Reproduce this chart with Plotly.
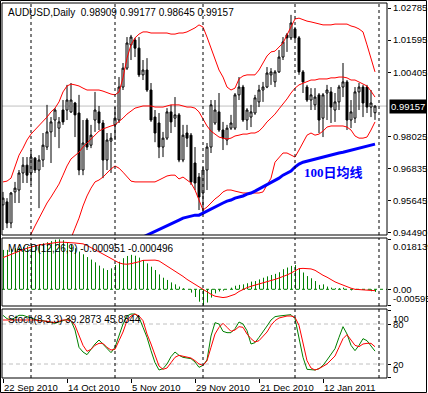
import plotly.graph_objects as go

# ---------------- data ----------------
open_ = [0.9550,0.9561,0.9483,0.9598,0.9605,0.9668,0.9697,0.9668,0.9723,0.9679,
         0.9716,0.9764,0.9820,0.9864,0.9834,0.9901,0.9901,0.9894,0.9927,0.9890,
         0.9679,0.9864,0.9771,0.9864,0.9894,0.9853,0.9716,0.9786,0.9846,0.9864,
         0.9986,1.0056,1.0142,1.0160,1.0130,1.0031,1.0049,0.9975,0.9875,0.9853,
         0.9764,0.9797,0.9894,0.9871,0.9883,0.9716,0.9816,0.9808,0.9705,0.9653,
         0.9594,0.9679,0.9764,0.9853,0.9894,0.9827,0.9790,0.9834,0.9834,0.9957,
         0.9986,0.9864,0.9875,0.9890,0.9931,0.9975,0.9986,1.0031,1.0005,1.0042,
         1.0097,1.0179,1.0168,1.0201,1.0168,1.0042,0.9986,0.9938,0.9920,0.9957,
         0.9871,0.9964,0.9968,0.9901,0.9931,0.9986,1.0005,0.9864,0.9871,0.9968,
         0.9986,0.9986,0.9912,0.98909]
high = [0.9598,0.9575,0.9598,0.9635,0.9679,0.9727,0.9727,0.9753,0.9727,0.9734,
        0.9816,0.9920,0.9875,0.9908,0.9875,0.9938,0.9994,1.0001,0.9931,0.9957,
        0.9864,0.9871,0.9846,0.9968,0.9916,0.9864,0.9816,0.9816,0.9912,1.0023,
        1.0075,1.0171,1.0179,1.0168,1.0171,1.0086,1.0093,1.0001,0.9901,0.9890,
        0.9820,0.9908,0.9920,0.9949,0.9890,0.9846,0.9846,0.9816,0.9764,0.9668,
        0.9690,0.9779,0.9938,0.9938,0.9964,0.9857,0.9846,0.9883,0.9964,1.0023,
        0.9994,0.9908,0.9920,0.9957,0.9994,1.0005,1.0060,1.0056,1.0049,1.0123,
        1.0171,1.0186,1.0253,1.0208,1.0175,1.0049,0.9994,0.9982,0.9982,0.9964,
        0.9964,0.9994,0.9986,0.9964,0.9994,1.0075,1.0012,0.9938,0.9986,1.0001,
        0.9994,0.9994,0.9975,0.99177]
low = [0.9457,0.9464,0.9464,0.9557,0.9557,0.9631,0.9631,0.9624,0.9668,0.9538,
       0.9690,0.9753,0.9705,0.9801,0.9760,0.9846,0.9864,0.9890,0.9801,0.9660,
       0.9660,0.9753,0.9760,0.9820,0.9827,0.9649,0.9679,0.9668,0.9790,0.9853,
       0.9975,1.0049,1.0086,1.0097,1.0023,1.0012,0.9968,0.9857,0.9782,0.9723,
       0.9727,0.9790,0.9816,0.9838,0.9708,0.9708,0.9764,0.9624,0.9605,0.9531,
       0.9520,0.9605,0.9742,0.9846,0.9820,0.9753,0.9771,0.9827,0.9827,0.9938,
       0.9857,0.9827,0.9838,0.9883,0.9912,0.9931,0.9982,0.9994,0.9986,1.0038,
       1.0086,1.0116,1.0160,1.0160,1.0031,0.9964,0.9931,0.9901,0.9901,0.9816,
       0.9801,0.9864,0.9853,0.9857,0.9901,0.9949,0.9827,0.9834,0.9853,0.9901,
       0.9875,0.9890,0.9875,0.98645]
close = [0.9575,0.9483,0.9594,0.9612,0.9668,0.9697,0.9660,0.9727,0.9679,0.9716,
         0.9771,0.9820,0.9857,0.9901,0.9857,0.9857,0.9938,0.9938,0.9883,0.9679,
         0.9779,0.9764,0.9808,0.9901,0.9853,0.9716,0.9790,0.9797,0.9871,0.9986,
         1.0056,1.0149,1.0171,1.0130,1.0031,1.0049,0.9975,0.9864,0.9816,0.9764,
         0.9797,0.9894,0.9857,0.9883,0.9716,0.9808,0.9797,0.9635,0.9631,0.9579,
         0.9679,0.9764,0.9920,0.9901,0.9827,0.9797,0.9834,0.9853,0.9957,0.9986,
         0.9864,0.9901,0.9894,0.9946,0.9975,0.9986,1.0038,1.0042,1.0042,1.0097,
         1.0153,1.0168,1.0223,1.0168,1.0042,1.0005,0.9938,0.9957,0.9949,0.9864,
         0.9957,0.9975,0.9912,0.9931,0.9986,1.0005,0.9864,0.9894,0.9968,0.9986,
         0.9927,0.9912,0.9927,0.99157]

bb_upper = [0.9635,0.9638,0.9649,0.9694,0.9734,0.9760,0.9790,0.9812,0.9827,0.9842,
            0.9857,0.9875,0.9894,0.9908,0.9931,0.9968,0.9990,0.9997,0.9994,0.9990,
            0.9982,0.9975,0.9975,0.9975,0.9975,0.9971,0.9964,0.9960,0.9957,0.9968,
            1.0020,1.0093,1.0142,1.0168,1.0182,1.0190,1.0190,1.0186,1.0186,1.0186,
            1.0186,1.0186,1.0182,1.0182,1.0186,1.0186,1.0190,1.0197,1.0205,1.0216,
            1.0208,1.0171,1.0130,1.0086,1.0049,1.0023,0.9986,0.9975,0.9982,1.0016,
            1.0027,1.0031,1.0031,1.0031,1.0049,1.0075,1.0101,1.0116,1.0119,1.0134,
            1.0149,1.0179,1.0208,1.0238,1.0241,1.0234,1.0230,1.0227,1.0223,1.0219,
            1.0216,1.0216,1.0216,1.0219,1.0219,1.0219,1.0219,1.0212,1.0208,1.0201,
            1.0190,1.0142,1.0093,1.0042]
bb_middle = [0.9316,0.9339,0.9361,0.9383,0.9398,0.9413,0.9427,0.9442,0.9472,0.9501,
             0.9531,0.9557,0.9579,0.9601,0.9627,0.9660,0.9694,0.9720,0.9734,0.9745,
             0.9764,0.9779,0.9794,0.9808,0.9823,0.9831,0.9838,0.9842,0.9846,0.9857,
             0.9871,0.9886,0.9897,0.9908,0.9912,0.9916,0.9916,0.9916,0.9912,0.9912,
             0.9912,0.9916,0.9920,0.9920,0.9920,0.9916,0.9912,0.9912,0.9908,0.9894,
             0.9868,0.9842,0.9823,0.9812,0.9801,0.9797,0.9794,0.9797,0.9805,0.9808,
             0.9812,0.9812,0.9816,0.9816,0.9823,0.9838,0.9857,0.9871,0.9886,0.9905,
             0.9923,0.9942,0.9964,0.9982,0.9994,1.0001,1.0008,1.0012,1.0012,1.0016,
             1.0016,1.0016,1.0020,1.0020,1.0023,1.0023,1.0020,1.0012,1.0012,1.0005,
             0.9997,0.9990,0.9971,0.9949]
bb_lower = [0.9124,0.9131,0.9139,0.9154,0.9176,0.9198,0.9213,0.9227,0.9250,0.9272,
            0.9301,0.9324,0.9339,0.9353,0.9368,0.9390,0.9409,0.9427,0.9464,0.9501,
            0.9546,0.9583,0.9612,0.9635,0.9642,0.9653,0.9668,0.9683,0.9694,0.9686,
            0.9671,0.9653,0.9638,0.9635,0.9635,0.9635,0.9635,0.9635,0.9635,0.9642,
            0.9649,0.9657,0.9660,0.9660,0.9646,0.9653,0.9642,0.9631,0.9605,0.9568,
            0.9531,0.9542,0.9557,0.9572,0.9583,0.9598,0.9605,0.9605,0.9601,0.9598,
            0.9594,0.9594,0.9594,0.9594,0.9594,0.9598,0.9624,0.9649,0.9708,0.9727,
            0.9742,0.9742,0.9734,0.9727,0.9753,0.9779,0.9808,0.9816,0.9808,0.9812,
            0.9823,0.9838,0.9842,0.9842,0.9842,0.9842,0.9838,0.9827,0.9805,0.9797,
            0.9797,0.9801,0.9827,0.9857]
ma100 = [None] * 34 + [
    0.9424,0.9431,0.9438,0.9446,0.9453,0.9461,0.9468,0.9475,0.9483,0.9487,
    0.9494,0.9501,0.9505,0.9509,0.9512,0.9512,0.9520,0.9527,0.9535,0.9542,
    0.9549,0.9557,0.9564,0.9568,0.9575,0.9579,0.9583,0.9590,0.9594,0.9601,
    0.9609,0.9616,0.9624,0.9631,0.9638,0.9649,0.9660,0.9668,0.9675,0.9690,
    0.9701,0.9708,0.9712,0.9716,0.9720,0.9723,0.9727,0.9731,0.9734,0.9738,
    0.9742,0.9745,0.9749,0.9753,0.9757,0.9760,0.9764,0.9768,0.9771,0.9775]

macd_hist = [0.0143,0.0143,0.0146,0.0149,0.0151,0.0154,0.0156,0.0159,0.0161,0.0163,
             0.0167,0.0171,0.0175,0.0180,0.018139,0.0178,0.0171,0.0161,0.0149,0.0137,
             0.0127,0.0117,0.0108,0.0098,0.0086,0.0076,0.0070,0.0076,0.0088,0.0100,
             0.0113,0.0121,0.0125,0.0122,0.0115,0.0106,0.0094,0.0082,0.0070,0.0054,
             0.0042,0.0034,0.0025,0.0018,0.0010,0.0004,0.0000,-0.0012,-0.0028,-0.0045,
             -0.0058,-0.0048,-0.0030,-0.0015,-0.0008,-0.0005,0.0000,0.0006,0.0013,0.0016,
             0.0018,0.0022,0.0028,0.0030,0.0036,0.0042,0.0047,0.0052,0.0056,0.0062,
             0.0073,0.0079,0.0085,0.0088,0.0076,0.0061,0.0048,0.0040,0.0030,0.0016,
             0.0018,0.0010,0.0006,0.0004,0.0004,0.0006,0.0000,-0.0004,-0.0002,-0.0001,
             0.0000,-0.0001,-0.0007,-0.000951]
macd_signal = [0.0115,0.0121,0.0126,0.0134,0.0139,0.0144,0.0149,0.0154,0.0157,0.0161,
               0.0163,0.0167,0.0169,0.0171,0.0171,0.0171,0.0169,0.0169,0.0168,0.0167,
               0.0165,0.0159,0.0152,0.0144,0.0137,0.0128,0.0120,0.0111,0.0103,0.0096,
               0.0092,0.0091,0.0093,0.0096,0.0100,0.0105,0.0106,0.0106,0.0106,0.0103,
               0.0094,0.0085,0.0076,0.0067,0.0058,0.0047,0.0036,0.0027,0.0016,0.0007,
               -0.0002,-0.0011,-0.0018,-0.0025,-0.0028,-0.0030,-0.0028,-0.0024,-0.0018,-0.0008,
               0.0000,0.0006,0.0011,0.0015,0.0018,0.0022,0.0027,0.0031,0.0036,0.0041,
               0.0046,0.0052,0.0059,0.0068,0.0075,0.0076,0.0076,0.0074,0.0069,0.0059,
               0.0051,0.0044,0.0035,0.0027,0.0021,0.0015,0.0008,0.0004,0.0000,-0.0001,
               -0.0002,-0.0002,-0.0004,-0.000496]

stoch_main = [93,88,86,90,93,93,91,88,86,85,
              85,84,82,81,83,85,87,85,71,45,
              38,34,42,50,56,50,44,37,45,62,
              80,92,95,95,90,75,60,40,22,11,
              13,20,31,38,33,30,29,28,23,15,
              18,26,62,82,80,69,67,67,73,83,
              80,70,50,52,60,68,77,86,91,92,
              93,94,94,88,60,30,12,11,11,13,
              18,26,35,43,60,76,65,48,40,48,
              58,55,47,39.2873]
stoch_signal = [86,86,87,87,86,86,86,86,86,85,
                85,84,83,82,84,86,86,85,78,62,
                48,39,42,48,51,51,45,41,42,55,
                68,85,92,95,92,85,65,50,32,17,
                12,14,22,30,33,32,31,29,25,20,
                18,25,45,65,75,81,75,69,71,76,
                75,65,58,53,55,62,68,78,85,89,
                91,92,92,90,78,50,25,14,11,13,
                17,20,26,32,45,58,64,55,48,46,
                50,51,51,45.8844]

separator_idx = [7, 28, 50, 73, 94]
date_tick_idx = [0, 16, 32, 48, 64, 80]
date_tick_labels = ["22 Sep 2010", "14 Oct 2010", "5 Nov 2010",
                    "29 Nov 2010", "21 Dec 2010", "12 Jan 2011"]
price_ticks = [1.02785, 1.01595, 1.00405, 0.98025, 0.96835, 0.95645, 0.94490]
macd_ticks = [0.018139, 0.0, -0.00595]
macd_tick_labels = ["0.018139", "0.00", "-0.00595"]
stoch_ticks = [100, 80, 20, 0]
stoch_levels = [20, 80]
last_price = 0.99157
title_main = "AUDUSD,Daily\u00a0 0.98909 0.99177 0.98645 0.99157"
title_macd = "MACD(12,26,9) -0.000951 -0.000496"
title_stoch = "Stoch(8,3,3) 39.2873 45.8844"
ma_label = "100日均线"

# ---------------- layout helpers ----------------
W, H = 428, 393
def px(x):
    return x / W
def py(y):
    return 1 - y / H

FONT = "Liberation Sans, Arial, sans-serif"
GREEN = "#008000"
RED = "#FF0000"
idx = list(range(len(open_)))

main_dom = [py(235), py(3)]
macd_dom = [py(306), py(238)]
stoch_dom = [py(378), py(309)]

fig = go.Figure()

fig.add_trace(go.Candlestick(
    x=idx, open=open_, high=high, low=low, close=close,
    increasing=dict(line=dict(color="black", width=1), fillcolor="white"),
    decreasing=dict(line=dict(color="black", width=1), fillcolor="black"),
    whiskerwidth=0, xaxis="x", yaxis="y", showlegend=False, hoverinfo="skip"))

for band in (bb_upper, bb_middle, bb_lower):
    fig.add_trace(go.Scatter(x=idx, y=band, mode="lines",
                             line=dict(color=RED, width=1),
                             xaxis="x", yaxis="y", showlegend=False, hoverinfo="skip"))

fig.add_trace(go.Scatter(x=idx, y=ma100, mode="lines",
                         line=dict(color="#0000FF", width=3),
                         xaxis="x", yaxis="y", showlegend=False, hoverinfo="skip"))

# MACD histogram drawn as 1px vertical strokes from zero to each value
# (shifted by an eighth of a bar so each stroke lands on a whole pixel)
hist_x, hist_y = [], []
for i, v in zip(idx, macd_hist):
    hist_x += [i + 0.125, i + 0.125, None]
    hist_y += [0, v, None]
fig.add_trace(go.Scatter(x=hist_x, y=hist_y, mode="lines",
                         line=dict(color=GREEN, width=1),
                         xaxis="x", yaxis="y2", showlegend=False, hoverinfo="skip"))
fig.add_trace(go.Scatter(x=idx, y=macd_signal, mode="lines",
                         line=dict(color=RED, width=1),
                         xaxis="x", yaxis="y2", showlegend=False, hoverinfo="skip"))

fig.add_trace(go.Scatter(x=idx, y=stoch_main, mode="lines",
                         line=dict(color=GREEN, width=1),
                         xaxis="x", yaxis="y3", showlegend=False, hoverinfo="skip"))
fig.add_trace(go.Scatter(x=idx, y=stoch_signal, mode="lines",
                         line=dict(color=RED, width=1),
                         xaxis="x", yaxis="y3", showlegend=False, hoverinfo="skip"))

shapes = []
# outer frame
shapes.append(dict(type="rect", xref="paper", yref="paper",
                   x0=px(0.5), x1=px(426.5), y0=py(392.5), y1=py(0.5),
                   line=dict(color="black", width=1)))
# panel borders
for dom in (main_dom, macd_dom, stoch_dom):
    shapes.append(dict(type="rect", xref="paper", yref="paper",
                       x0=px(2), x1=px(387), y0=dom[0], y1=dom[1],
                       line=dict(color="black", width=1)))
# current price line
shapes.append(dict(type="line", xref="paper", yref="y", x0=px(2), x1=px(387),
                   y0=last_price, y1=last_price, layer="below",
                   line=dict(color="#C0C0C0", width=1)))
# MACD zero line
shapes.append(dict(type="line", xref="paper", yref="y2", x0=px(2), x1=px(387),
                   y0=0, y1=0, layer="below",
                   line=dict(color=GREEN, width=1, dash="3px,3px")))
# stoch levels
for lv in stoch_levels:
    shapes.append(dict(type="line", xref="paper", yref="y3", x0=px(2), x1=px(387),
                       y0=lv, y1=lv, layer="below",
                       line=dict(color="#C0C0C0", width=1, dash="4px,3px")))
# period separators
for s in separator_idx:
    for dom in (main_dom, macd_dom, stoch_dom):
        shapes.append(dict(type="line", xref="x", yref="paper", x0=s, x1=s,
                           y0=dom[0], y1=dom[1],
                           line=dict(color="black", width=1, dash="3px,3px")))

ann = []
def txt(x, y, text, xref="paper", yref="paper", xanchor="left", yanchor="middle",
        size=9, color="black", **kw):
    ann.append(dict(x=x, y=y, xref=xref, yref=yref, text=text, showarrow=False,
                    xanchor=xanchor, yanchor=yanchor,
                    font=dict(family=kw.pop("family", FONT), size=size, color=color), **kw))

txt(px(6), py(12), title_main, size=10)
txt(px(6), py(248), title_macd, size=10)
txt(px(6), py(319), title_stoch, size=10)
txt(px(302), py(172), "<b>" + ma_label + "</b>", color="#0000FF", size=13,
    family="Liberation Serif, Noto Sans CJK SC, serif")
txt(px(389), last_price, "0.99157", yref="y", bgcolor="black", color="white",
    borderpad=1, size=9.5)
for v, lab in zip(macd_ticks, macd_tick_labels):
    ya = "top" if v == max(macd_ticks) else ("bottom" if v == min(macd_ticks) else "middle")
    txt(px(391), v, lab, yref="y2", yanchor=ya, size=9.5)
for v in stoch_ticks:
    ya = "top" if v == 100 else ("bottom" if v == 0 else "middle")
    txt(px(391), v, str(v), yref="y3", yanchor=ya, size=9.5)
for i, lab in zip(date_tick_idx, date_tick_labels):
    txt(i - 0.2, py(387), lab, xref="x", size=9.5)

axis_common = dict(showgrid=False, zeroline=False, showline=False, fixedrange=True)

fig.update_layout(
    width=W, height=H, margin=dict(l=0, r=0, t=0, b=0, autoexpand=False),
    paper_bgcolor="white", plot_bgcolor="white",
    hovermode=False, showlegend=False,
    font=dict(family=FONT, size=9.5, color="black"),
    xaxis=dict(domain=[px(2), px(387)], range=[-0.25, 96], anchor="y3",
               tickvals=date_tick_idx, ticks="outside", ticklen=4,
               tickcolor="black", showticklabels=False, automargin=False,
               rangeslider=dict(visible=False), **axis_common),
    yaxis=dict(domain=main_dom, range=[0.94386, 1.02970], side="right", anchor="x",
               tickvals=price_ticks, tickformat=".5f", ticks="outside", ticklen=3,
               tickcolor="black", tickfont=dict(size=9.5), automargin=False,
               **axis_common),
    yaxis2=dict(domain=macd_dom, range=[-0.00606, 0.01862], side="right", anchor="x",
                tickvals=macd_ticks, ticks="outside", ticklen=3, tickcolor="black",
                showticklabels=False, automargin=False, **axis_common),
    yaxis3=dict(domain=stoch_dom, range=[-1, 102.5], side="right", anchor="x",
                tickvals=stoch_ticks, ticks="outside", ticklen=3, tickcolor="black",
                showticklabels=False, automargin=False, **axis_common),
    shapes=shapes, annotations=ann,
)

fig.write_html(
    "out.html",
    config={"displayModeBar": False, "staticPlot": True},
    post_script="document.body.style.margin='0';document.body.style.padding='0';"
                "document.documentElement.style.margin='0';",
)
